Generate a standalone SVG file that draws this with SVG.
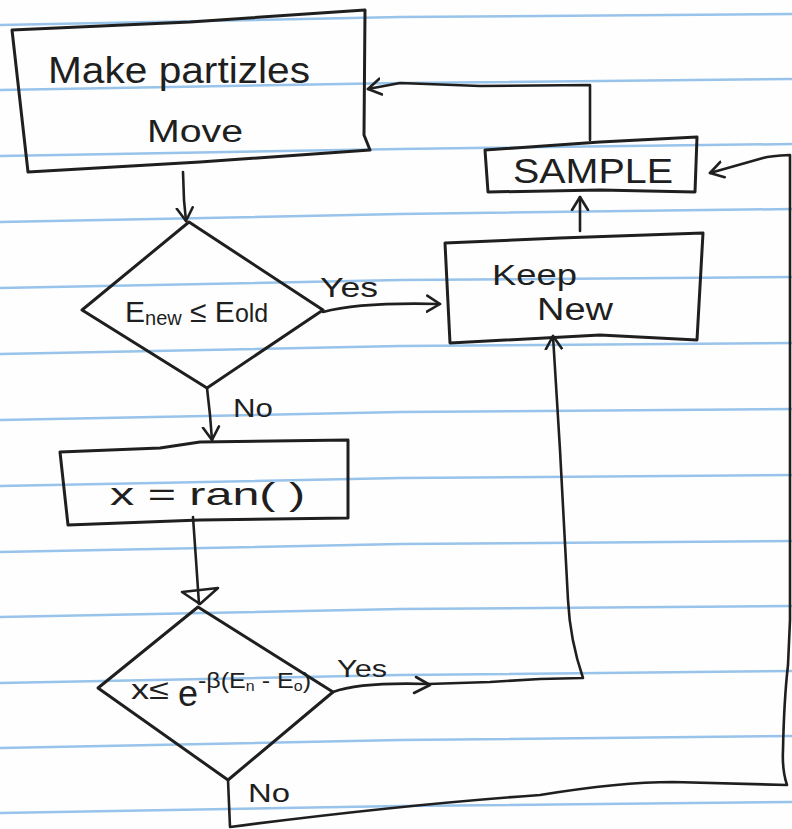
<svg xmlns="http://www.w3.org/2000/svg" width="792" height="829" viewBox="0 0 792 829">
<style>
.paper{fill:#fefefe}
.rule{fill:none;stroke:#98c3ea;stroke-width:2.5}
.shape{fill:none;stroke:#1f1f1f;stroke-width:3;stroke-linejoin:round;stroke-linecap:round}
.conn{fill:none;stroke:#1f1f1f;stroke-width:2.6;stroke-linejoin:round;stroke-linecap:round}
.t{font-family:"Liberation Sans","DejaVu Sans",sans-serif;fill:#1f1f1f}
</style>
<defs>
<marker id="chev" viewBox="-14 -10 16 20" markerWidth="16" markerHeight="20" refX="0" refY="0" orient="auto" markerUnits="userSpaceOnUse">
<path d="M-13,-8 L0,0 L-13,8" fill="none" stroke="#1f1f1f" stroke-width="2.6" stroke-linecap="round" stroke-linejoin="round"/>
</marker>
</defs>
<rect class="paper" x="0" y="0" width="792" height="829"/>
<g id="ruling">
<polyline class="rule" points="0,25 400,17 792,14"/>
<polyline class="rule" points="0,90 400,83 792,79"/>
<polyline class="rule" points="0,156 400,149 792,144"/>
<polyline class="rule" points="0,222 400,214 792,209"/>
<polyline class="rule" points="0,288 400,280 792,277"/>
<polyline class="rule" points="0,354 400,346 792,343"/>
<polyline class="rule" points="0,420 400,412 792,409"/>
<polyline class="rule" points="0,486 400,478 792,475"/>
<polyline class="rule" points="0,552 400,544 792,541"/>
<polyline class="rule" points="0,617 400,609 792,606"/>
<polyline class="rule" points="0,683 400,675 792,671"/>
<polyline class="rule" points="0,748 400,740 792,736"/>
<polyline class="rule" points="0,813 400,806 792,802"/>
</g>
<g id="connectors">
<path class="conn" d="M183,172 L184,200 L186,221" marker-end="url(#chev)"/>
<path class="conn" d="M323,312 Q360,302 440,304" marker-end="url(#chev)"/>
<path class="conn" d="M207,388 L210,415 L212,440" marker-end="url(#chev)"/>
<path class="conn" d="M193,517 L196,560 L199,604"/>
<path class="conn" d="M182,592 L218,588 L200,604 Z"/>
<path class="conn" d="M333,692 Q360,682 428,684"/>
<path class="conn" d="M416,677 L430,685 L414,693"/>
<path class="conn" d="M428,684 L490,682 L540,679 L583,678 Q570,640 568,600 L560,450 L553,336" marker-end="url(#chev)"/>
<path class="conn" d="M228,780 L230,827 Q400,805 540,795 Q620,782 673,782 L787,785 Q782,770 783,750 Q784,700 788,665 L790,620 L790,155 Q770,156 763,158 L710,173" marker-end="url(#chev)"/>
<path class="conn" d="M580,231 L580,197" marker-end="url(#chev)"/>
<path class="conn" d="M590,140 L590,85 L480,86 L400,83 L368,89" marker-end="url(#chev)"/>
</g>
<g id="make">
<path class="shape" d="M12,30 L190,22 L365,10 L364,135 L370,150 L200,162 L28,172 Z"/>
<text class="t" x="48" y="83" font-size="36" textLength="262" lengthAdjust="spacingAndGlyphs">Make partizles</text>
<text class="t" x="147" y="142" font-size="31" textLength="96" lengthAdjust="spacingAndGlyphs">Move</text>
</g>
<g id="test1">
<path class="shape" d="M189,222 L323,310 L207,388 L82,310 Z"/>
<text class="t" x="125" y="322" font-size="30">E<tspan font-size="20" dy="3">new</tspan><tspan dy="-3"> ≤ </tspan>E<tspan font-size="25">old</tspan></text>
<text class="t" x="320" y="297" font-size="28" textLength="58" lengthAdjust="spacingAndGlyphs">Yes</text>
<text class="t" x="233" y="417" font-size="26" textLength="40" lengthAdjust="spacingAndGlyphs">No</text>
</g>
<g id="random">
<path class="shape" d="M60,452 L160,448 L200,442 L348,440 L348,518 L200,520 L68,525 Z"/>
<text class="t" x="110" y="505" font-size="32" textLength="195" lengthAdjust="spacingAndGlyphs">x = ran( )</text>
</g>
<g id="test2">
<path class="shape" d="M198,607 L333,692 L228,780 L98,688 Z"/>
<text class="t" x="131" y="699" font-size="28" textLength="38" lengthAdjust="spacingAndGlyphs">x≤</text>
<text class="t" x="178" y="706" font-size="36">e</text>
<text class="t" x="198" y="688" font-size="22" textLength="113" lengthAdjust="spacingAndGlyphs">-β(E<tspan font-size="14" dy="3">n</tspan><tspan dy="-3"> - E</tspan><tspan font-size="14" dy="3">o</tspan><tspan dy="-3">)</tspan></text>
<text class="t" x="337" y="677" font-size="24" textLength="50" lengthAdjust="spacingAndGlyphs">Yes</text>
<text class="t" x="248" y="802" font-size="26" textLength="42" lengthAdjust="spacingAndGlyphs">No</text>
</g>
<g id="keepnew">
<path class="shape" d="M445,243 L560,238 L703,233 L697,340 L600,335 L450,343 Z"/>
<text class="t" x="492" y="285" font-size="30" textLength="85" lengthAdjust="spacingAndGlyphs">Keep</text>
<text class="t" x="537" y="320" font-size="31" textLength="76" lengthAdjust="spacingAndGlyphs">New</text>
</g>
<g id="sample">
<path class="shape" d="M485,150 L600,142 L697,137 L695,192 L600,190 L488,192 Z"/>
<text class="t" x="513" y="183" font-size="35" textLength="160" lengthAdjust="spacingAndGlyphs">SAMPLE</text>
</g>
</svg>
